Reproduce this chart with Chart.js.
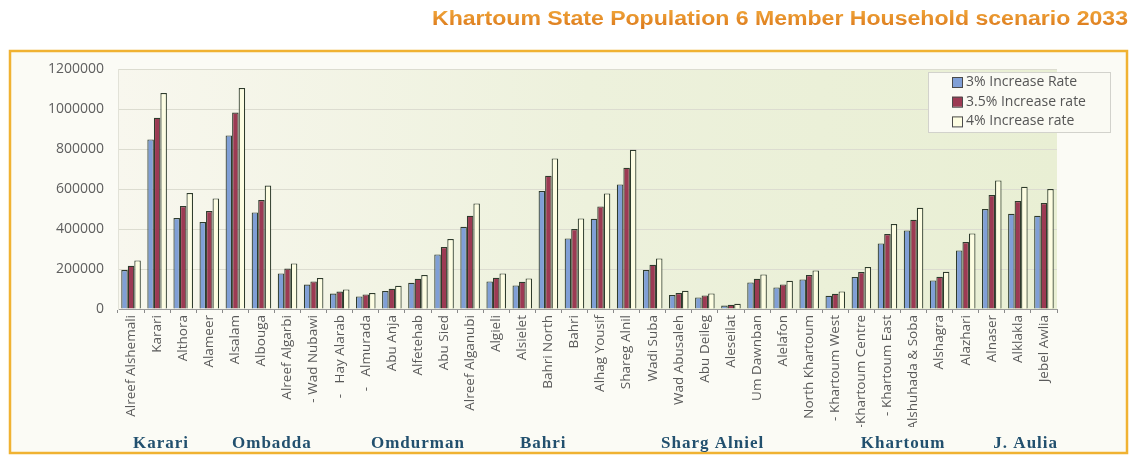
<html><head><meta charset="UTF-8"/>
<title>Khartoum State Population 6 Member Household scenario 2033</title>
<script src="https://cdn.jsdelivr.net/npm/chart.js"></script>
<style>
* {
    margin: 0;
    padding: 0;
    box-sizing: border-box;
}

body {
    background: #ffffff;
    width: 1133px;
    height: 457px;
    overflow: hidden;
}
</style>
</head>
<body>
<canvas id="popChart" width="1133" height="457"></canvas>

<script>
const chartTitle = 'Khartoum State Population 6 Member Household scenario 2033';

const localities = [
    'Alreef Alshemali', 'Karari', 'Althora', 'Alameer', 'Alsalam', 'Albouga',
    'Alreef Algarbi', '- Wad Nubawi', '-   Hay Alarab', '-   Almurada', 'Abu Anja', 'Alfetehab',
    'Abu Sied', 'Alreef Alganubi', 'Algieli', 'Alsielet', 'Bahri North', 'Bahri',
    'Alhag Yousif', 'Shareg Alnil', 'Wadi Suba', 'Wad Abusaleh', 'Abu Deileg', 'Aleseilat',
    'Um Dawnban', 'Alelafon', 'North Khartoum', '- Khartoum West', '-Khartoum Centre', '- Khartoum East',
    'Alshuhada & Soba', 'Alshagra', 'Alazhari', 'Alnaser', 'Alklakla', 'Jebel Awlia'
];

const rate3 = [
    195000, 848000, 455000, 435000, 868000, 483000,
    178000, 122000, 77000, 63000, 90000, 131000,
    273000, 411000, 138000, 118000, 590000, 353000,
    451000, 623000, 195000, 70000, 58000, 17000,
    133000, 108000, 148000, 66000, 160000, 328000,
    393000, 143000, 293000, 500000, 476000, 466000
];

const rate35 = [
    216000, 956000, 515000, 490000, 982000, 545000,
    202000, 138000, 87000, 73000, 101000, 151000,
    310000, 466000, 156000, 136000, 666000, 400000,
    513000, 706000, 221000, 80000, 68000, 21000,
    151000, 123000, 170000, 76000, 185000, 375000,
    446000, 161000, 335000, 570000, 540000, 530000
];

const rate4 = [
    243000, 1080000, 580000, 553000, 1105000, 617000,
    228000, 155000, 98000, 80000, 116000, 170000,
    350000, 528000, 178000, 153000, 753000, 453000,
    578000, 796000, 253000, 91000, 78000, 26000,
    173000, 141000, 193000, 88000, 210000, 425000,
    506000, 186000, 378000, 643000, 611000, 600000
];

const seriesNames = ['3% Increase Rate', '3.5% Increase rate', '4% Increase rate'];
const yTicks = [0, 200000, 400000, 600000, 800000, 1000000, 1200000];

// localities (groups) written under the axis, centred on a category index
const groupNames = ['Karari', 'Ombadda', 'Omdurman', 'Bahri', 'Sharg Alniel', 'Khartoum', 'J. Aulia'];
const groupCenters = [1.15, 5.4, 11.0, 15.8, 22.3, 29.6, 34.3];

const barBorder = '#2e3b2c';

// background, frame, title, legend and group names
const decorations = {
    id: 'decorations',
    beforeDraw(chart) {
        const ctx = chart.ctx;
        const a = chart.chartArea;
        ctx.save();
        ctx.fillStyle = '#ffffff';
        ctx.fillRect(0, 0, chart.width, chart.height);
        ctx.fillStyle = '#fbfbf5';
        ctx.fillRect(10, 51, 1117, 402);
        const g = ctx.createLinearGradient(a.left, 0, a.right, 0);
        g.addColorStop(0, '#f8f7ee');
        g.addColorStop(0.5, '#edf1dc');
        g.addColorStop(1, '#e9efd4');
        ctx.fillStyle = g;
        ctx.fillRect(a.left, a.top, a.right - a.left, a.bottom - a.top);
        ctx.restore();
    },
    afterDraw(chart) {
        const ctx = chart.ctx;
        ctx.save();

        // frame
        ctx.strokeStyle = '#f0b232';
        ctx.lineWidth = 2.5;
        ctx.strokeRect(10, 51, 1117, 402);

        // title, right aligned and fitted to its width
        ctx.font = 'bold 20px "Liberation Sans", Arial, sans-serif';
        const w = ctx.measureText(chartTitle).width;
        const sx = 696 / w;
        ctx.translate(1128, 25);
        ctx.scale(sx, 1);
        const tg = ctx.createLinearGradient(0, -15, 0, 2);
        tg.addColorStop(0, '#f0a63a');
        tg.addColorStop(1, '#dc7a1c');
        ctx.fillStyle = tg;
        ctx.textAlign = 'right';
        ctx.textBaseline = 'alphabetic';
        ctx.fillText(chartTitle, 0, 0);
        ctx.setTransform(1, 0, 0, 1, 0, 0);

        // legend
        ctx.fillStyle = '#fafaf3';
        ctx.fillRect(928, 72, 182, 60);
        ctx.strokeStyle = '#d2d2cc';
        ctx.lineWidth = 1;
        ctx.strokeRect(928.5, 72.5, 182, 60);
        ctx.font = '14px "Open Sans", sans-serif';
        ctx.textAlign = 'left';
        ctx.textBaseline = 'middle';
        chart.data.datasets.forEach((ds, i) => {
            const y = 82 + i * 19.7;
            ctx.fillStyle = ds.backgroundColor;
            ctx.fillRect(952, y - 5, 10, 10);
            ctx.strokeStyle = '#4a4a4a';
            ctx.strokeRect(952.5, y - 4.5, 10, 10);
            ctx.fillStyle = '#555555';
            ctx.fillText(ds.label, 966, y);
        });

        // group names
        const xs = chart.scales.x;
        ctx.font = 'bold 17px "Liberation Serif", "Times New Roman", serif';
        ctx.letterSpacing = '1px';
        ctx.fillStyle = '#22506e';
        ctx.textAlign = 'center';
        ctx.textBaseline = 'alphabetic';
        groupNames.forEach((name, i) => {
            const x0 = xs.getPixelForValue(0);
            const step = xs.getPixelForValue(1) - x0;
            ctx.fillText(name, x0 + groupCenters[i] * step, 448);
        });
        ctx.restore();
    }
};

new Chart(document.getElementById('popChart'), {
    type: 'bar',
    data: {
        labels: localities,
        datasets: [
            { label: seriesNames[0], data: rate3, backgroundColor: '#809fd6' },
            { label: seriesNames[1], data: rate35, backgroundColor: '#9c3a53' },
            { label: seriesNames[2], data: rate4, backgroundColor: '#fdfde2' }
        ].map(ds => Object.assign(ds, {
            borderColor: barBorder,
            borderWidth: 1.2,
            barPercentage: 1,
            categoryPercentage: 0.75
        }))
    },
    options: {
        responsive: false,
        animation: false,
        layout: {
            padding: { top: 69, left: 10, right: 76, bottom: 30 }
        },
        plugins: {
            legend: { display: false },
            tooltip: { enabled: false }
        },
        scales: {
            x: {
                afterFit(scale) { scale.height = 118; },
                grid: {
                    offset: true,
                    drawOnChartArea: false,
                    tickLength: 4,
                    color: '#8a8a8a'
                },
                border: { color: '#9a9a9a' },
                ticks: {
                    autoSkip: false,
                    maxRotation: 90,
                    minRotation: 90,
                    padding: 2,
                    color: '#5a5a5a',
                    font: { family: '"Open Sans", sans-serif', size: 13.5 }
                }
            },
            y: {
                min: 0,
                max: 1200000,
                afterFit(scale) { scale.width = 108; },
                afterBuildTicks(scale) { scale.ticks = yTicks.map(v => ({ value: v })); },
                grid: {
                    drawTicks: false,
                    color: '#dcdcd0'
                },
                border: { color: '#e2e2d8' },
                ticks: {
                    padding: 14,
                    color: '#5e5e5e',
                    font: { family: '"Open Sans", sans-serif', size: 14 },
                    callback: v => String(v)
                }
            }
        }
    },
    plugins: [decorations]
});
</script>
</body></html>
